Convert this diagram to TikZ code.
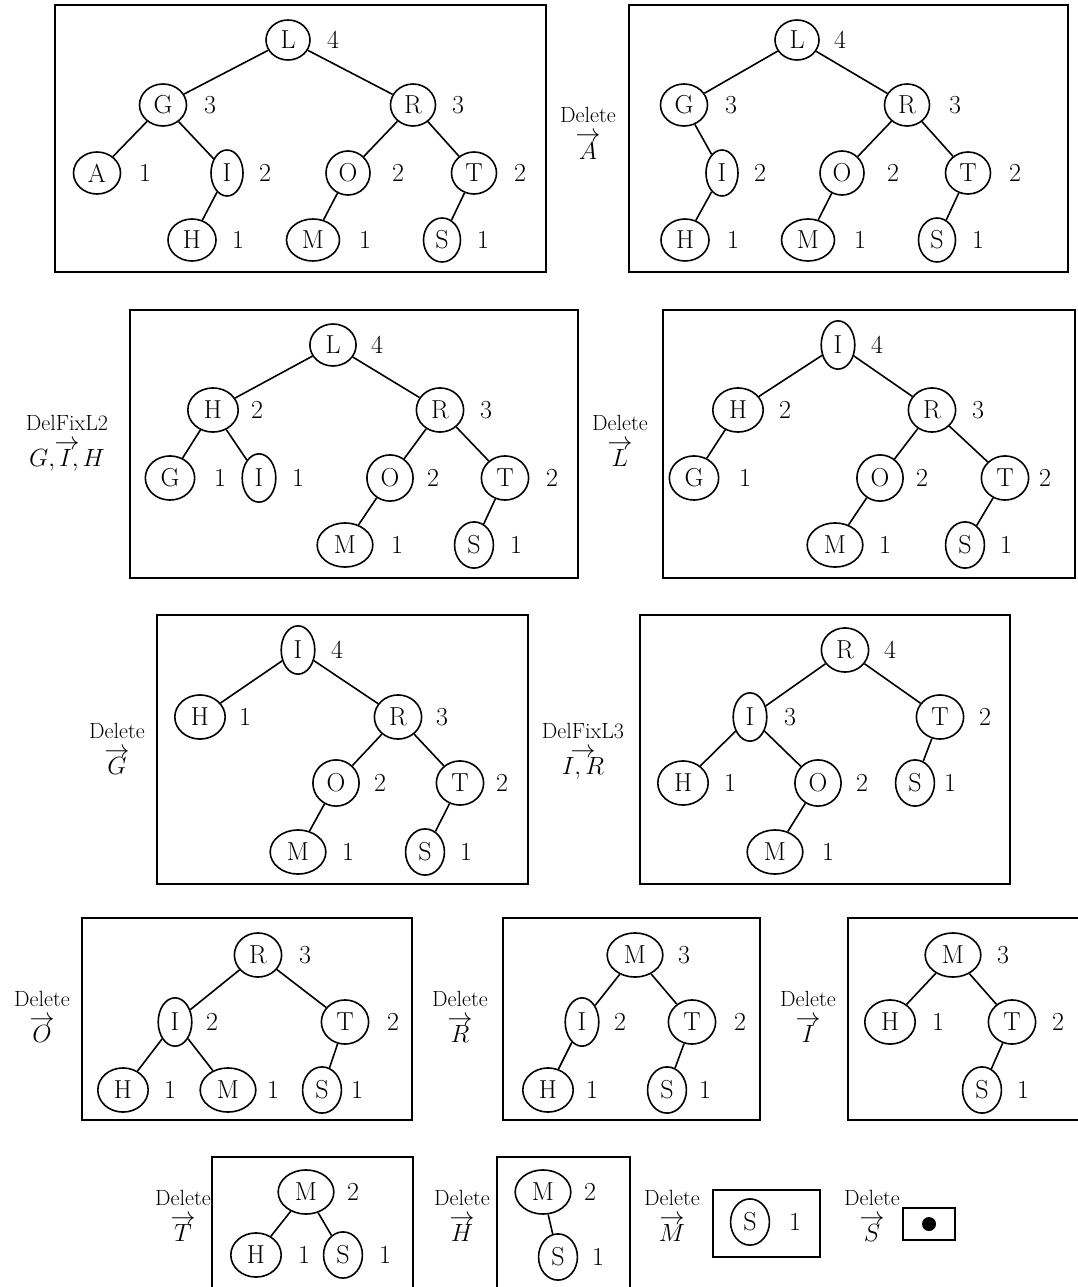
\documentclass[tikz,border=0pt]{standalone}
\usepackage{fontspec}
\usetikzlibrary{shapes.geometric}
\def\ns{1}
\tikzset{
  ndbase/.style={draw, ellipse, line width=1.6pt, inner sep=0pt, font=\fontsize{26}{28}\selectfont},
  nd/.style={ndbase, sz#1},
  szL/.style={minimum width=44pt*\ns, minimum height=40pt*\ns},
  szG/.style={minimum width=47pt*\ns, minimum height=42pt*\ns},
  szR/.style={minimum width=45pt*\ns, minimum height=42pt*\ns},
  szA/.style={minimum width=47pt*\ns, minimum height=42pt*\ns},
  szI/.style={minimum width=32pt*\ns, minimum height=46pt*\ns},
  szO/.style={minimum width=44pt*\ns, minimum height=44pt*\ns},
  szT/.style={minimum width=45pt*\ns, minimum height=42pt*\ns},
  szH/.style={minimum width=48pt*\ns, minimum height=42pt*\ns},
  szM/.style={minimum width=53pt*\ns, minimum height=42pt*\ns},
  szS/.style={minimum width=37pt*\ns, minimum height=44pt*\ns},
  wt/.style={inner sep=0pt, font=\fontsize{26}{28}\selectfont},
  edge/.style={line width=1.6pt},
  frame/.style={line width=2.4pt},
  optop/.style={inner sep=0pt, anchor=base, font=\fontsize{22}{22}\selectfont},
  oparr/.style={inner sep=0pt, anchor=base, font=\fontsize{26}{26}\selectfont},
  opbot/.style={inner sep=0pt, anchor=base, font=\fontsize{23}{23}\selectfont},
}
% step label: #1 = name, #2 = x, #3 = y of arrow axis, #4 = top text, #5 = argument
\newcommand\steplabel[5]{%
  \node[optop] (#1t) at (#2,#3-10) {#4};
  \node[oparr] (#1) at (#2,#3+9) {$\rightarrow$};
  \node[opbot] (#1b) at (#2,#3+26.5) {$#5$};}
\begin{document}
\begin{tikzpicture}[x=1pt, y=-1pt]
\useasboundingbox (0,0) rectangle (1078,1287);

% ---------------- Row 1 ----------------
\def\ns{1}
\draw[frame] (55,5) rectangle (546,272);
\node[nd=L] (aL) at (288,40) {L};  \node[wt] (awL) at (333,40) {4};
\node[nd=G] (aG) at (163,105) {G}; \node[wt] (awG) at (210,105) {3};
\node[nd=R] (aR) at (413,105) {R}; \node[wt] (awR) at (458,105) {3};
\node[nd=A] (aA) at (97,173) {A};  \node[wt] (awA) at (145,173) {1};
\node[nd=I] (aI) at (227,173) {I}; \node[wt] (awI) at (265,173) {2};
\node[nd=O] (aO) at (348,173) {O}; \node[wt] (awO) at (398,173) {2};
\node[nd=T] (aT) at (474,173) {T}; \node[wt] (awT) at (520,173) {2};
\node[nd=H] (aH) at (192,240) {H}; \node[wt] (awH) at (238,240) {1};
\node[nd=M] (aM) at (313,240) {M}; \node[wt] (awM) at (365,240) {1};
\node[nd=S] (aS) at (442,240) {S}; \node[wt] (awS) at (483,240) {1};
\draw[edge] (aL)--(aG) (aL)--(aR) (aG)--(aA) (aG)--(aI) (aI)--(aH)
            (aR)--(aO) (aR)--(aT) (aO)--(aM) (aT)--(aS);

\steplabel{s1}{588}{133}{Delete}{A}

\draw[frame] (629,5) rectangle (1068,272);
\node[nd=L] (bL) at (797,40) {L};  \node[wt] (bwL) at (840,40) {4};
\node[nd=G] (bG) at (684,105) {G}; \node[wt] (bwG) at (731,105) {3};
\node[nd=R] (bR) at (907,105) {R}; \node[wt] (bwR) at (955,105) {3};
\node[nd=I] (bI) at (722,173) {I}; \node[wt] (bwI) at (760,173) {2};
\node[nd=O] (bO) at (842,173) {O}; \node[wt] (bwO) at (893,173) {2};
\node[nd=T] (bT) at (968,173) {T}; \node[wt] (bwT) at (1015,173) {2};
\node[nd=H] (bH) at (685,240) {H}; \node[wt] (bwH) at (733,240) {1};
\node[nd=M] (bM) at (808,240) {M}; \node[wt] (bwM) at (860,240) {1};
\node[nd=S] (bS) at (937,240) {S}; \node[wt] (bwS) at (978,240) {1};
\draw[edge] (bL)--(bG) (bL)--(bR) (bG)--(bI) (bI)--(bH)
            (bR)--(bO) (bR)--(bT) (bO)--(bM) (bT)--(bS);

% ---------------- Row 2 ----------------
\def\ns{1.05}
\steplabel{s2}{67}{440}{DelFixL2}{G,I,H}

\draw[frame] (130,310) rectangle (578,578);
\node[nd=L] (cL) at (333,345) {L}; \node[wt] (cwL) at (377,345) {4};
\node[nd=H] (cH) at (213,410) {H}; \node[wt] (cwH) at (257,410) {2};
\node[nd=R] (cR) at (440,410) {R}; \node[wt] (cwR) at (486,410) {3};
\node[nd=G] (cG) at (170,478) {G}; \node[wt] (cwG) at (220,478) {1};
\node[nd=I] (cI) at (259,478) {I}; \node[wt] (cwI) at (298,478) {1};
\node[nd=O] (cO) at (390,478) {O}; \node[wt] (cwO) at (433,478) {2};
\node[nd=T] (cT) at (505,478) {T}; \node[wt] (cwT) at (552,478) {2};
\node[nd=M] (cM) at (345,545) {M}; \node[wt] (cwM) at (397,545) {1};
\node[nd=S] (cS) at (474,545) {S}; \node[wt] (cwS) at (516,545) {1};
\draw[edge] (cL)--(cH) (cL)--(cR) (cH)--(cG) (cH)--(cI)
            (cR)--(cO) (cR)--(cT) (cO)--(cM) (cT)--(cS);

\steplabel{s3}{620}{440}{Delete}{L}

\draw[frame] (663,310) rectangle (1075,578);
\node[nd=I] (dI) at (838,345) {I}; \node[wt] (dwI) at (877,345) {4};
\node[nd=H] (dH) at (738,410) {H}; \node[wt] (dwH) at (785,410) {2};
\node[nd=R] (dR) at (932,410) {R}; \node[wt] (dwR) at (978,410) {3};
\node[nd=G] (dG) at (694,478) {G}; \node[wt] (dwG) at (745,478) {1};
\node[nd=O] (dO) at (880,478) {O}; \node[wt] (dwO) at (922,478) {2};
\node[nd=T] (dT) at (1005,478) {T}; \node[wt] (dwT) at (1045,478) {2};
\node[nd=M] (dM) at (835,545) {M}; \node[wt] (dwM) at (885,545) {1};
\node[nd=S] (dS) at (965,545) {S}; \node[wt] (dwS) at (1006,545) {1};
\draw[edge] (dI)--(dH) (dI)--(dR) (dH)--(dG)
            (dR)--(dO) (dR)--(dT) (dO)--(dM) (dT)--(dS);

% ---------------- Row 3 ----------------
\steplabel{s4}{117}{748}{Delete}{G}

\draw[frame] (157,615) rectangle (528,884);
\node[nd=I] (eI) at (298,650) {I}; \node[wt] (ewI) at (337,650) {4};
\node[nd=H] (eH) at (200,717) {H}; \node[wt] (ewH) at (245,717) {1};
\node[nd=R] (eR) at (398,717) {R}; \node[wt] (ewR) at (442,717) {3};
\node[nd=O] (eO) at (336,783) {O}; \node[wt] (ewO) at (380,783) {2};
\node[nd=T] (eT) at (460,783) {T}; \node[wt] (ewT) at (502,783) {2};
\node[nd=M] (eM) at (298,852) {M}; \node[wt] (ewM) at (348,852) {1};
\node[nd=S] (eS) at (425,852) {S}; \node[wt] (ewS) at (466,852) {1};
\draw[edge] (eI)--(eH) (eI)--(eR) (eR)--(eO) (eR)--(eT) (eO)--(eM) (eT)--(eS);

\steplabel{s5}{583}{748}{DelFixL3}{I,R}

\draw[frame] (640,615) rectangle (1010,884);
\node[nd=R] (fR) at (845,650) {R}; \node[wt] (fwR) at (890,650) {4};
\node[nd=I] (fI) at (750,717) {I}; \node[wt] (fwI) at (790,717) {3};
\node[nd=T] (fT) at (940,717) {T}; \node[wt] (fwT) at (985,717) {2};
\node[nd=H] (fH) at (683,783) {H}; \node[wt] (fwH) at (730,783) {1};
\node[nd=O] (fO) at (818,783) {O}; \node[wt] (fwO) at (862,783) {2};
\node[nd=S] (fS) at (915,783) {S}; \node[wt] (fwS) at (950,783) {1};
\node[nd=M] (fM) at (775,852) {M}; \node[wt] (fwM) at (828,852) {1};
\draw[edge] (fR)--(fI) (fR)--(fT) (fI)--(fH) (fI)--(fO) (fT)--(fS) (fO)--(fM);

% ---------------- Row 4 ----------------
\steplabel{s6}{42}{1016}{Delete}{O}

\draw[frame] (82,918) rectangle (412,1120);
\node[nd=R] (gR) at (258,955) {R}; \node[wt] (gwR) at (305,955) {3};
\node[nd=I] (gI) at (175,1022) {I}; \node[wt] (gwI) at (212,1022) {2};
\node[nd=T] (gT) at (345,1022) {T}; \node[wt] (gwT) at (393,1022) {2};
\node[nd=H] (gH) at (123,1090) {H}; \node[wt] (gwH) at (170,1090) {1};
\node[nd=M] (gM) at (228,1090) {M}; \node[wt] (gwM) at (273,1090) {1};
\node[nd=S] (gS) at (322,1090) {S}; \node[wt] (gwS) at (357,1090) {1};
\draw[edge] (gR)--(gI) (gR)--(gT) (gI)--(gH) (gI)--(gM) (gT)--(gS);

\steplabel{s7}{460}{1016}{Delete}{R}

\draw[frame] (503,918) rectangle (760,1120);
\node[nd=M] (hM) at (635,955) {M}; \node[wt] (hwM) at (684,955) {3};
\node[nd=I] (hI) at (582,1022) {I}; \node[wt] (hwI) at (620,1022) {2};
\node[nd=T] (hT) at (692,1022) {T}; \node[wt] (hwT) at (740,1022) {2};
\node[nd=H] (hH) at (548,1090) {H}; \node[wt] (hwH) at (592,1090) {1};
\node[nd=S] (hS) at (667,1090) {S}; \node[wt] (hwS) at (705,1090) {1};
\draw[edge] (hM)--(hI) (hM)--(hT) (hI)--(hH) (hT)--(hS);

\steplabel{s8}{808}{1016}{Delete}{I}

\draw[frame] (1095,918) -- (848,918) -- (848,1120) -- (1095,1120);
\node[nd=M] (iM) at (953,955) {M}; \node[wt] (iwM) at (1003,955) {3};
\node[nd=H] (iH) at (890,1022) {H}; \node[wt] (iwH) at (938,1022) {1};
\node[nd=T] (iT) at (1012,1022) {T}; \node[wt] (iwT) at (1058,1022) {2};
\node[nd=S] (iS) at (982,1090) {S}; \node[wt] (iwS) at (1023,1090) {1};
\draw[edge] (iM)--(iH) (iM)--(iT) (iT)--(iS);

% ---------------- Row 5 ----------------
\steplabel{s9}{183}{1215}{Delete}{T}

\draw[frame] (212,1295) -- (212,1157) -- (413,1157) -- (413,1295);
\node[nd=M] (jM) at (306,1192) {M}; \node[wt] (jwM) at (353,1192) {2};
\node[nd=H] (jH) at (256,1255) {H}; \node[wt] (jwH) at (304,1255) {1};
\node[nd=S] (jS) at (343,1255) {S}; \node[wt] (jwS) at (385,1255) {1};
\draw[edge] (jM)--(jH) (jM)--(jS);

\steplabel{s10}{462}{1215}{Delete}{H}

\draw[frame] (497,1295) -- (497,1157) -- (630,1157) -- (630,1295);
\node[nd=M] (kM) at (543,1192) {M}; \node[wt] (kwM) at (590,1192) {2};
\node[nd=S] (kS) at (558,1257) {S}; \node[wt] (kwS) at (598,1257) {1};
\draw[edge] (kM)--(kS);

\steplabel{s11}{672}{1215}{Delete}{M}

\draw[frame] (713,1190) rectangle (820,1257);
\node[nd=S] (lS) at (750,1222) {S}; \node[wt] (lwS) at (795,1222) {1};

\steplabel{s12}{872}{1215}{Delete}{S}

\draw[frame] (903,1208) rectangle (955,1240);
\fill (929,1224) circle (7);
\end{tikzpicture}
\end{document}
